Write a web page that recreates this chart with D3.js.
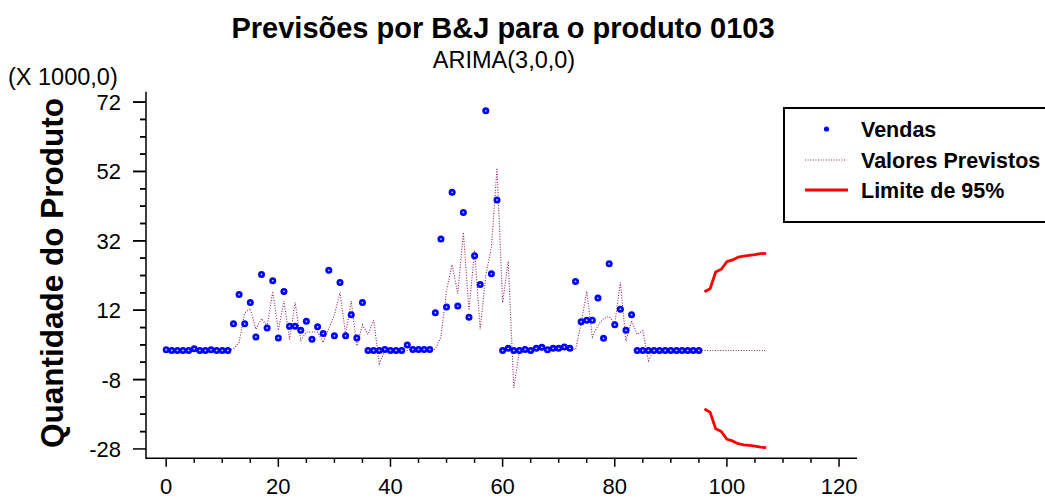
<!DOCTYPE html>
<html>
<head>
<meta charset="utf-8">
<script src="https://cdn.jsdelivr.net/npm/d3@7"></script>
<style>
  body { margin: 0; background: #fff; overflow: hidden; }
  svg { display: block; font-family: "Liberation Sans", Arial, sans-serif; }
  .axis-line { stroke: #000; stroke-width: 1.5; fill: none; }
  .tick-line { stroke: #000; stroke-width: 1.5; }
</style>
</head>
<body>
<svg id="chart" width="1045" height="498"></svg>
<script>
// Vendas observadas (periodos 0..95)
const vendas = [
  0.6, 0.4, 0.4, 0.4, 0.4, 0.9, 0.4, 0.4, 0.6, 0.4, 0.4, 0.4,
  8.1, 16.5, 8.1, 14.2, 4.3, 22.3, 6.9, 20.5, 4.0, 17.4, 7.4, 7.4,
  6.2, 8.8, 3.6, 7.2, 5.3, 23.5, 4.6, 20.0, 4.6, 10.7, 4.0, 14.2,
  0.4, 0.4, 0.4, 0.7, 0.4, 0.4, 0.4, 2.0, 0.7, 0.7, 0.7, 0.7,
  11.3, 32.5, 12.9, 46.0, 13.2, 40.2, 10.0, 27.7, 19.4, 69.5, 22.5, 43.8,
  0.4, 1.0, 0.4, 0.4, 0.7, 0.4, 1.0, 1.3, 0.6, 1.0, 1.0, 1.4,
  1.0, 20.3, 8.7, 9.1, 9.1, 15.5, 3.9, 25.4, 7.8, 12.3, 6.2, 10.7,
  0.4, 0.4, 0.4, 0.4, 0.4, 0.4, 0.4, 0.4, 0.4, 0.4, 0.4, 0.4
];

// Valores previstos pelo modelo ARIMA(3,0,0) (periodos 0..95)
const previstos = [
  0.4, 0.4, 0.4, 0.4, 0.4, 0.4, 0.4, 0.4, 0.4, 0.4, 0.4, 0.4,
  0.8, 2.7, 11.2, 12.5, 6.5, 9.6, 7.4, 17.4, 6.2, 14.6, 3.6, 14.2,
  3.3, 5.7, 5.7, 5.7, 2.7, 6.7, 10.7, 17.1, 5.0, 14.6, 1.7, 7.8,
  5.0, 9.1, -3.4, 0.4, 0.6, 0.4, 0.4, 0.4, 1.2, 0.6, 0.6, 0.6,
  0.7, 4.3, 17.7, 25.1, 16.8, 34.4, 12.0, 29.3, 6.5, 22.1, 30.2, 53.0,
  14.2, 26.1, -10.4, 0.4, 0.8, 0.6, 0.6, 0.9, 1.0, 0.7, 0.9, 1.0,
  1.0, 0.6, 8.1, 17.4, 4.3, 7.6, 9.6, 10.2, 8.1, 20.0, 3.1, 8.9,
  5.0, 6.1, -2.6, 0.4, 0.4, 0.4, 0.4, 0.4, 0.4, 0.4, 0.4, 0.4
];

// Previsoes futuras (periodos 96..107)
const periodosFuturos = [96, 97, 98, 99, 100, 101, 102, 103, 104, 105, 106, 107];
const previsaoMedia = [0.4, 0.4, 0.4, 0.4, 0.4, 0.4, 0.4, 0.4, 0.4, 0.4, 0.4, 0.4];
const limiteSuperior = [17.3, 18.2, 23.0, 23.8, 26.0, 26.5, 27.3, 27.6, 27.8, 28.0, 28.3, 28.4];
const limiteInferior = [-16.5, -17.4, -22.2, -23.0, -25.2, -25.7, -26.5, -26.8, -27.0, -27.2, -27.5, -27.6];

const xTicks = [0, 20, 40, 60, 80, 100, 120];
const yTicks = [-28, -8, 12, 32, 52, 72];
const legendLabels = ["Vendas", "Valores Previstos", "Limite de 95%"];

const COR_VENDAS = "#0000ff";
const COR_PREVISTOS = "#9b2160";
const COR_LIMITE = "#ff0000";

const svg = d3.select("#chart");
const x = d3.scaleLinear().domain([-3.6, 123.2]).range([146, 857]);
const y = d3.scaleLinear().domain([-30.7, 75]).range([458.3, 91.7]);

function drawTitles() {
  svg.append("text")
    .attr("x", 503).attr("y", 38)
    .attr("text-anchor", "middle")
    .style("font-size", "29px").style("font-weight", "bold")
    .text("Previsões por B&J para o produto 0103");

  svg.append("text")
    .attr("x", 504).attr("y", 68)
    .attr("text-anchor", "middle")
    .style("font-size", "23.5px")
    .text("ARIMA(3,0,0)");

  svg.append("text")
    .attr("x", 8).attr("y", 85)
    .style("font-size", "23.5px")
    .text("(X 1000,0)");

  svg.append("text")
    .attr("transform", "translate(63,273) rotate(-90)")
    .attr("text-anchor", "middle")
    .style("font-size", "31.5px").style("font-weight", "bold")
    .text("Quantidade do Produto");
}

function drawAxes() {
  const [x0, x1] = x.range();
  const [y0, y1] = y.range();
  svg.append("path").attr("class", "axis-line")
    .attr("d", `M${x0},${y1}V${y0}H${x1}`);

  // eixo X: principais de 20 em 20, secundarios de 5 em 5
  const gx = svg.append("g");
  gx.selectAll(".minor").data(d3.range(0, 121, 5)).enter().append("line")
    .attr("class", "tick-line")
    .attr("x1", d => x(d)).attr("x2", d => x(d))
    .attr("y1", y0).attr("y2", d => y0 + (d % 20 === 0 ? 8.5 : 4.5));
  gx.selectAll(".lbl").data(xTicks).enter().append("text")
    .attr("x", d => x(d)).attr("y", 494)
    .attr("text-anchor", "middle")
    .style("font-size", "22px")
    .text(d => d);

  // eixo Y
  const gy = svg.append("g");
  gy.selectAll(".minor").data(d3.range(-28, 73, 5).concat(d3.range(-23, 73, 5)))
    .enter().append("line")
    .attr("class", "tick-line")
    .attr("x1", d => x0 - ((d + 28) % 20 === 0 ? 13 : 6)).attr("x2", x0)
    .attr("y1", d => y(d)).attr("y2", d => y(d));
  gy.selectAll(".lbl").data(yTicks).enter().append("text")
    .attr("x", 121).attr("y", d => y(d) + 8)
    .attr("text-anchor", "end")
    .style("font-size", "22px")
    .text(d => d);
}

function drawSeries() {
  const line = d3.line().x(d => x(d[0])).y(d => y(d[1]));

  const serieModelo = previstos.map((v, i) => [i, v])
    .concat(periodosFuturos.map((p, i) => [p, previsaoMedia[i]]));
  svg.append("path")
    .datum(serieModelo)
    .attr("d", line)
    .attr("fill", "none")
    .attr("stroke", COR_PREVISTOS)
    .attr("stroke-width", 1.1)
    .attr("stroke-dasharray", "1,1.6");

  [limiteSuperior, limiteInferior].forEach(lim => {
    svg.append("path")
      .datum(periodosFuturos.map((p, i) => [p, lim[i]]))
      .attr("d", line)
      .attr("fill", "none")
      .attr("stroke", COR_LIMITE)
      .attr("stroke-width", 2.8)
      .attr("stroke-linejoin", "round");
  });

  const pts = svg.append("g").selectAll("g")
    .data(vendas).enter().append("g")
    .attr("transform", (d, i) => `translate(${x(i)},${y(d)})`);
  pts.append("circle").attr("r", 3.5).attr("fill", COR_VENDAS);
  pts.append("circle").attr("r", 0.9).attr("fill", "#c8c8ff");
}

function drawLegend() {
  const g = svg.append("g");
  g.append("rect")
    .attr("x", 784).attr("y", 108).attr("width", 320).attr("height", 114)
    .attr("fill", "#fff").attr("stroke", "#000").attr("stroke-width", 2);

  const rows = [129, 160, 190];
  g.append("circle").attr("cx", 826.5).attr("cy", rows[0]).attr("r", 2.6).attr("fill", COR_VENDAS);
  g.append("line").attr("x1", 805).attr("x2", 847).attr("y1", rows[1]).attr("y2", rows[1])
    .attr("stroke", COR_PREVISTOS).attr("stroke-width", 1.1).attr("stroke-dasharray", "1,1.6");
  g.append("line").attr("x1", 805).attr("x2", 848).attr("y1", rows[2]).attr("y2", rows[2])
    .attr("stroke", COR_LIMITE).attr("stroke-width", 2.8);

  g.selectAll("text").data(legendLabels).enter().append("text")
    .attr("x", 861).attr("y", (d, i) => rows[i] + 7.5)
    .style("font-size", "21.5px").style("font-weight", "bold")
    .text(d => d);
}

drawTitles();
drawAxes();
drawSeries();
drawLegend();
</script>
</body>
</html>
